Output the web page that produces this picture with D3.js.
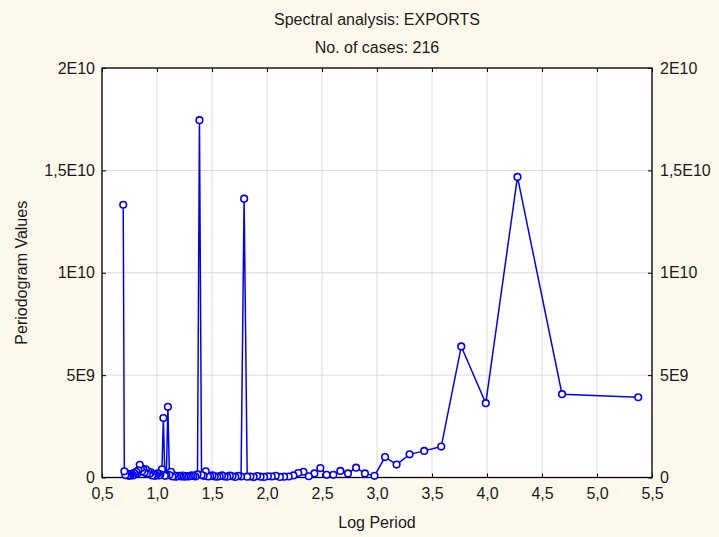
<!DOCTYPE html>
<html><head><meta charset="utf-8">
<script src="https://cdn.jsdelivr.net/npm/d3@7/dist/d3.min.js"></script>
<style>
html,body{margin:0;padding:0;background:#fdf8ec;}
svg{display:block;font-family:"Liberation Sans",Arial,sans-serif;}
</style></head>
<body><svg id="chart" width="719" height="537"></svg>
<script>
// Log period for each frequency (k = 1..108)
const logPeriod = [5.375,4.682,4.277,3.989,3.766,3.584,3.429,3.296,3.178,3.073,
2.977,2.890,2.810,2.736,2.667,2.603,2.542,2.485,2.431,2.380,
2.331,2.284,2.240,2.197,2.156,2.117,2.079,2.043,2.008,1.974,
1.941,1.910,1.879,1.849,1.820,1.792,1.764,1.738,1.712,1.686,
1.662,1.638,1.614,1.591,1.569,1.547,1.525,1.504,1.483,1.463,
1.443,1.424,1.405,1.386,1.368,1.350,1.332,1.315,1.298,1.281,
1.264,1.248,1.232,1.216,1.201,1.186,1.171,1.156,1.141,1.127,
1.113,1.099,1.085,1.071,1.058,1.045,1.031,1.019,1.006,0.993,
0.981,0.969,0.956,0.944,0.933,0.921,0.909,0.898,0.887,0.875,
0.864,0.853,0.843,0.832,0.821,0.811,0.801,0.790,0.780,0.770,
0.760,0.750,0.741,0.731,0.721,0.712,0.703,0.693];
// Periodogram values (in units of 1E9)
const periodogram = [3.92,4.07,14.68,3.63,6.40,1.51,1.30,1.13,0.63,1.00,
0.08,0.20,0.48,0.20,0.32,0.13,0.13,0.46,0.20,0.06,
0.28,0.22,0.10,0.05,0.04,0.03,0.08,0.05,0.06,0.03,
0.04,0.07,0.02,0.05,0.04,13.62,0.05,0.08,0.03,0.06,
0.09,0.04,0.05,0.10,0.06,0.04,0.05,0.10,0.06,0.05,
0.30,0.08,0.12,17.45,0.15,0.05,0.08,0.10,0.06,0.05,
0.07,0.04,0.09,0.05,0.08,0.06,0.04,0.10,0.05,0.28,
0.12,3.45,0.10,0.08,2.90,0.40,0.15,0.10,0.20,0.12,
0.08,0.15,0.10,0.25,0.18,0.30,0.20,0.40,0.25,0.42,
0.30,0.45,0.62,0.35,0.20,0.28,0.15,0.22,0.10,0.18,
0.12,0.08,0.15,0.10,0.20,0.12,0.30,13.32];
const xTicks = [0.5,1.0,1.5,2.0,2.5,3.0,3.5,4.0,4.5,5.0,5.5];
const xTickLabels = ["0,5","1,0","1,5","2,0","2,5","3,0","3,5","4,0","4,5","5,0","5,5"];
const yTicks = [0,5e9,1e10,1.5e10,2e10];
const yTickLabels = ["0","5E9","1E10","1,5E10","2E10"];
const title1 = "Spectral analysis: EXPORTS";
const title2 = "No. of cases: 216";
const xTitle = "Log Period";
const yTitle = "Periodogram Values";

const svg = d3.select("#chart");
const L = 102, R = 652, T = 68, B = 477.5;
const FS = "16px";
const x = d3.scaleLinear().domain([0.5,5.5]).range([L,R]);
const y = d3.scaleLinear().domain([0,2e10]).range([B,T]);
const data = logPeriod.map((lp,i)=>({x:lp,y:periodogram[i]*1e9}));
const txt = "#1a1a1a";

svg.append("rect").attr("x",L).attr("y",T).attr("width",R-L).attr("height",B-T).attr("fill","#fff");

// grid
svg.append("g").selectAll("line").data(xTicks).join("line")
  .attr("x1",d=>x(d)).attr("x2",d=>x(d)).attr("y1",T).attr("y2",B)
  .attr("stroke","#dadada").attr("stroke-width",1);
svg.append("g").selectAll("line").data(yTicks).join("line")
  .attr("y1",d=>y(d)).attr("y2",d=>y(d)).attr("x1",L).attr("x2",R)
  .attr("stroke","#dadada").attr("stroke-width",1);

// axes with inward ticks
const fmtX = d=>xTickLabels[xTicks.indexOf(d)];
const fmtY = d=>yTickLabels[yTicks.indexOf(d)];
const ax = (g)=>{g.select(".domain").remove(); g.selectAll("line").attr("stroke","#000"); g.selectAll("text").attr("fill",txt).style("font-size",FS);};
svg.append("g").attr("transform",`translate(0,${B})`)
  .call(d3.axisBottom(x).tickValues(xTicks).tickFormat(fmtX).tickSizeInner(-4).tickSizeOuter(0).tickPadding(10)).call(ax);
svg.append("g").attr("transform",`translate(0,${T})`)
  .call(d3.axisTop(x).tickValues(xTicks).tickFormat("").tickSizeInner(-4).tickSizeOuter(0)).call(ax);
svg.append("g").attr("transform",`translate(${L},0)`)
  .call(d3.axisLeft(y).tickValues(yTicks).tickFormat(fmtY).tickSizeInner(-4).tickSizeOuter(0).tickPadding(7)).call(ax);
svg.append("g").attr("transform",`translate(${R},0)`)
  .call(d3.axisRight(y).tickValues(yTicks).tickFormat(fmtY).tickSizeInner(-4).tickSizeOuter(0).tickPadding(8)).call(ax);

svg.append("rect").attr("x",L).attr("y",T).attr("width",R-L).attr("height",B-T)
  .attr("fill","none").attr("stroke","#000").attr("stroke-width",1.3);

// line + markers
const line = d3.line().x(d=>x(d.x)).y(d=>y(d.y));
svg.append("path").datum(data).attr("d",line).attr("fill","none")
  .attr("stroke","#0000ff").attr("stroke-width",1.5);
svg.append("g").selectAll("circle").data(data).join("circle")
  .attr("cx",d=>x(d.x)).attr("cy",d=>y(d.y)).attr("r",3.3)
  .attr("fill","#fff").attr("stroke","#0000ff").attr("stroke-width",1.6);

// titles
svg.append("text").attr("x",(L+R)/2).attr("y",25).attr("text-anchor","middle")
  .attr("fill",txt).style("font-size",FS).text(title1);
svg.append("text").attr("x",(L+R)/2).attr("y",53).attr("text-anchor","middle")
  .attr("fill",txt).style("font-size",FS).text(title2);
svg.append("text").attr("x",(L+R)/2).attr("y",528).attr("text-anchor","middle")
  .attr("fill",txt).style("font-size",FS).text(xTitle);
svg.append("text").attr("transform",`translate(27,${(T+B)/2}) rotate(-90)`).attr("text-anchor","middle")
  .attr("fill",txt).style("font-size",FS).text(yTitle);
</script></body></html>
